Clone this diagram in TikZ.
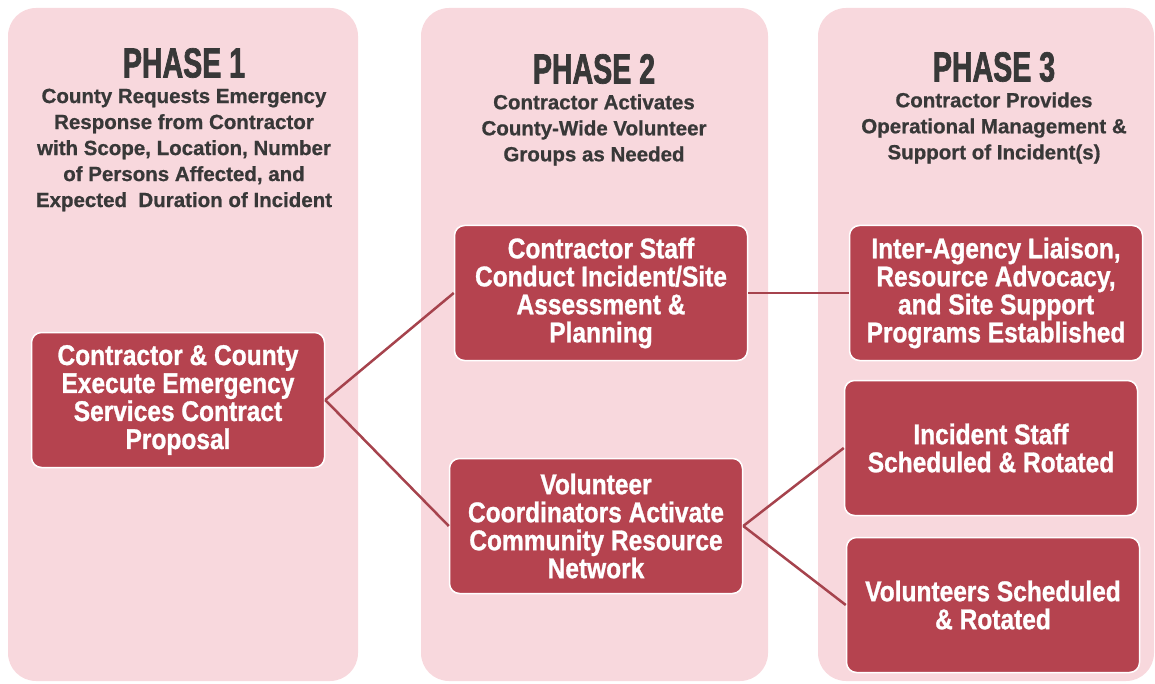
\documentclass[tikz,border=0pt]{standalone}
\usepackage{fontspec}
\setmainfont{Liberation Sans}[FakeBold=0.8]
\newfontfamily\phasefont{Liberation Sans}[FakeStretch=0.68, FakeBold=1.6]
\newfontfamily\boxfont{Liberation Sans}[FakeStretch=0.86, FakeBold=1.0]
\definecolor{panelpink}{HTML}{F8D8DD}
\definecolor{boxred}{HTML}{B5434F}
\definecolor{linered}{HTML}{A6434D}
\definecolor{headgray}{HTML}{383838}

\begin{document}
\begin{tikzpicture}
    [x=1pt, y=-1pt,
    panel/.style={fill=panelpink, rounded corners=28pt},
    phase/.style={text=headgray, inner sep=0pt, font=\phasefont\bfseries\fontsize{42}{44}\selectfont},
    subhead/.style={text=headgray, align=center, inner sep=0pt, font=\bfseries\fontsize{20.5}{26}\selectfont},
    block/.style={rectangle, rounded corners=10pt, fill=boxred, draw=white, line width=1.5pt,
        minimum width=293pt, minimum height=135pt, align=center, text=white,
        font=\boxfont\bfseries\fontsize{28.5}{28}\selectfont},
    link/.style={draw=linered, line width=2.5pt}]
    \useasboundingbox (0,0) rectangle (1155,684);
    % phase columns
    \fill[panel] (8,8) rectangle (358,681);
    \fill[panel] (421,8) rectangle (768,681);
    \fill[panel] (818,8) rectangle (1154,681);
    % headings
    \node[phase] (ph1) at (184,63) {PHASE 1};
    \node[phase] (ph2) at (594,69) {PHASE 2};
    \node[phase] (ph3) at (994,67) {PHASE 3};
    \node[subhead] (sub1) at (184,150) {County Requests Emergency\\Response from Contractor\\with Scope, Location, Number\\of Persons Affected, and\\Expected\ \ Duration of Incident};
    \node[subhead] (sub2) at (594,130) {Contractor Activates\\County-Wide Volunteer\\Groups as Needed};
    \node[subhead] (sub3) at (994,128) {Contractor Provides\\Operational Management \&\\Support of Incident(s)};
    % boxes
    \node[block] (exec) at (178,400) {Contractor \& County\\Execute Emergency\\Services Contract\\Proposal};
    \node[block] (assess) at (601,293) {Contractor Staff\\Conduct Incident/Site\\Assessment \&\\Planning};
    \node[block] (volcoord) at (596,526) {Volunteer\\Coordinators Activate\\Community Resource\\Network};
    \node[block] (liaison) at (996,293) {Inter-Agency Liaison,\\Resource Advocacy,\\and Site Support\\Programs Established};
    \node[block] (staffrot) at (991,448) {Incident Staff\\Scheduled \& Rotated};
    \node[block] (volrot) at (993,605) {Volunteers Scheduled\\\& Rotated};
    % connectors
    \draw[link] (exec.east) -- (assess.west);
    \draw[link] (exec.east) -- (volcoord.west);
    \draw[link] (assess.east) -- (liaison.west);
    \draw[link] (volcoord.east) -- (staffrot.west);
    \draw[link] (volcoord.east) -- (volrot.west);
\end{tikzpicture}
\end{document}
